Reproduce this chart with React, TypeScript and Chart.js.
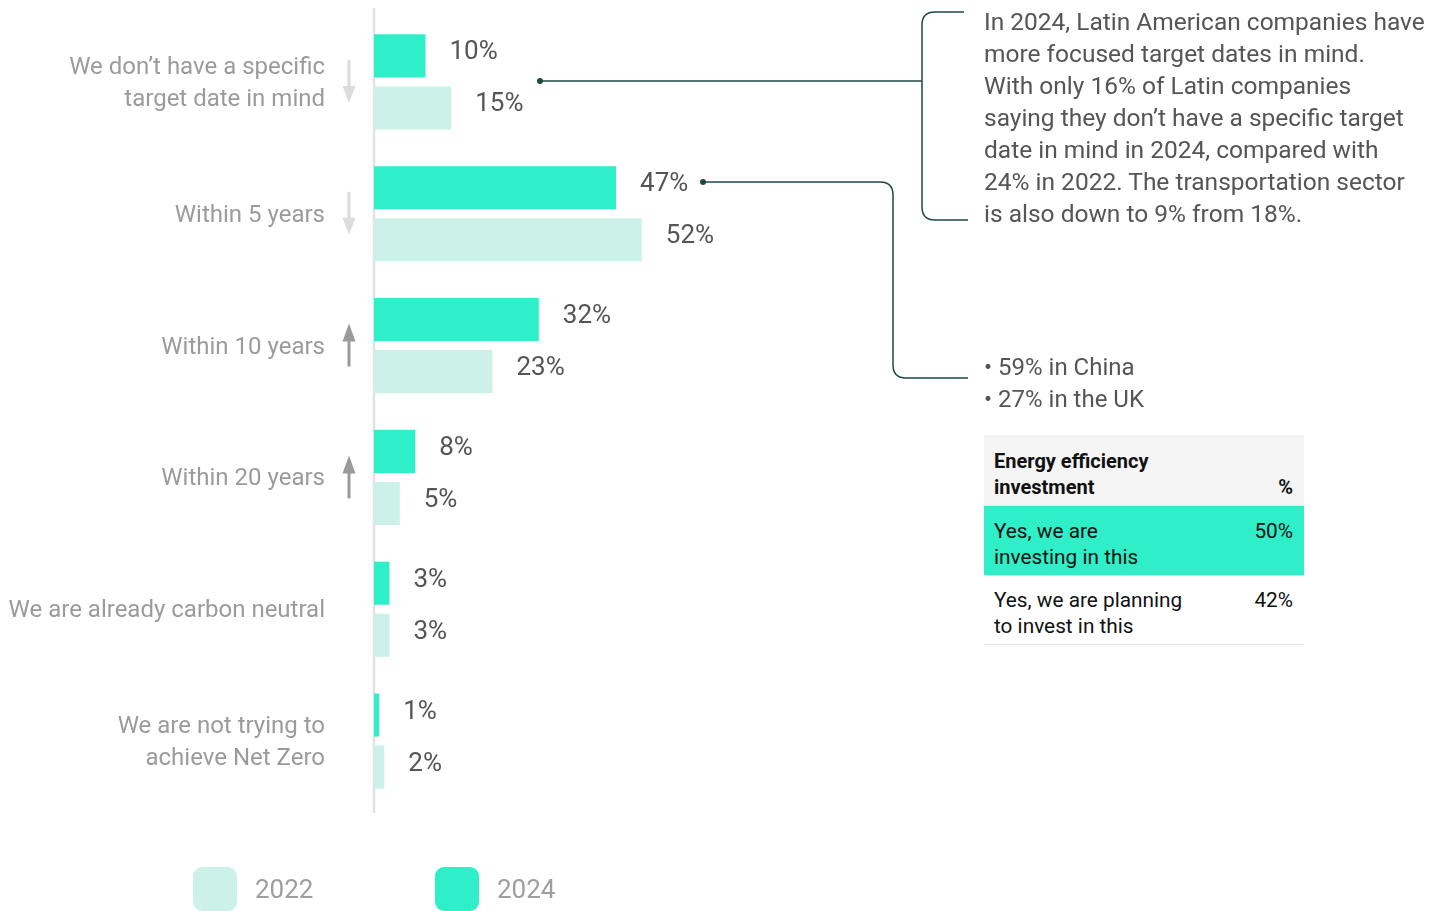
import React, { useEffect, useRef } from "react";
import { Chart, registerables } from "chart.js";

Chart.register(...registerables);

const categories: string[][] = [
  ["We don’t have a specific", "target date in mind"],
  ["Within 5 years"],
  ["Within 10 years"],
  ["Within 20 years"],
  ["We are already carbon neutral"],
  ["We are not trying to", "achieve Net Zero"],
];
const values2024 = [10, 47, 32, 8, 3, 1];
const values2022 = [15, 52, 23, 5, 3, 2];
const trends = ["down", "down", "up", "up", "none", "none"];
const seriesNames = ["2024", "2022"];

const noteLines = [
  "In 2024, Latin American companies have",
  "more focused target dates in mind.",
  "With only 16% of Latin companies",
  "saying they don’t have a specific target",
  "date in mind in 2024, compared with",
  "24% in 2022. The transportation sector",
  "is also down to 9% from 18%.",
];
const bulletLines = ["• 59% in China", "• 27% in the UK"];
const tableHeader = ["Energy efficiency", "investment"];
const tableRows = [
  { label: ["Yes, we are", "investing in this"], value: "50%" },
  { label: ["Yes, we are planning", "to invest in this"], value: "42%" },
];

const C2024 = "#2EEFC7";
const C2022 = "#CCF1E8";
const FONT = "Roboto, 'Noto Sans', sans-serif";
const LINE = "#1E4A42";

const drawPlugin = {
  id: "customDraw",
  beforeDatasetsDraw(chart: any) {
    const { ctx, chartArea } = chart;
    ctx.save();
    ctx.strokeStyle = "#E2E2E2";
    ctx.lineWidth = 2.5;
    ctx.beginPath();
    ctx.moveTo(chartArea.left, 8);
    ctx.lineTo(chartArea.left, 813);
    ctx.stroke();
    ctx.restore();
  },
  afterDatasetsDraw(chart: any) {
    const { ctx, chartArea } = chart;
    const yScale = chart.scales.y;
    ctx.save();
    // value labels
    ctx.font = `26px ${FONT}`;
    ctx.fillStyle = "#555555";
    ctx.textAlign = "left";
    ctx.textBaseline = "middle";
    chart.data.datasets.forEach((ds: any, di: number) => {
      const meta = chart.getDatasetMeta(di);
      meta.data.forEach((el: any, i: number) => {
        ctx.fillText(`${ds.data[i]}%`, el.x + 24, el.y - 3);
      });
    });
    // category labels
    ctx.font = `24px ${FONT}`;
    ctx.fillStyle = "#9B9B9B";
    ctx.textAlign = "right";
    categories.forEach((lines, i) => {
      const cy = yScale.getPixelForValue(i);
      const lh = 32;
      const start = cy - ((lines.length - 1) * lh) / 2;
      ctx.fillStyle = "#9B9B9B";
      lines.forEach((ln, k) => ctx.fillText(ln, 325, start + k * lh + 2));
      // arrows
      const t = trends[i];
      if (t === "none") return;
      const ax = chartArea.left - 25;
      const col = t === "up" ? "#9A9A9A" : "#DCDCDC";
      ctx.strokeStyle = col;
      ctx.fillStyle = col;
      ctx.lineWidth = 3;
      ctx.beginPath();
      if (t === "up") {
        ctx.moveTo(ax, cy + 21);
        ctx.lineTo(ax, cy - 8);
        ctx.stroke();
        ctx.beginPath();
        ctx.moveTo(ax, cy - 22);
        ctx.lineTo(ax - 6.5, cy - 4);
        ctx.lineTo(ax + 6.5, cy - 4);
      } else {
        ctx.moveTo(ax, cy - 22);
        ctx.lineTo(ax, cy + 8);
        ctx.stroke();
        ctx.beginPath();
        ctx.moveTo(ax, cy + 21);
        ctx.lineTo(ax - 6.5, cy + 4);
        ctx.lineTo(ax + 6.5, cy + 4);
      }
      ctx.closePath();
      ctx.fill();
    });
    ctx.restore();
  },
};

export default function App() {
  const canvasRef = useRef<HTMLCanvasElement | null>(null);

  useEffect(() => {
    if (!canvasRef.current) return;
    const chart = new Chart(canvasRef.current, {
      type: "bar",
      data: {
        labels: categories.map((c) => c.join(" ")),
        datasets: [
          {
            label: seriesNames[0],
            data: values2024,
            backgroundColor: C2024,
            categoryPercentage: 0.79,
            barPercentage: 0.827,
          },
          {
            label: seriesNames[1],
            data: values2022,
            backgroundColor: C2022,
            categoryPercentage: 0.79,
            barPercentage: 0.827,
          },
        ],
      },
      options: {
        indexAxis: "y",
        animation: false,
        responsive: true,
        maintainAspectRatio: false,
        layout: { padding: { left: 374, top: 16, bottom: 104, right: 11 } },
        plugins: { legend: { display: false }, tooltip: { enabled: false } },
        scales: {
          x: { display: false, min: 0, max: 100 },
          y: { display: false },
        },
      },
      plugins: [drawPlugin],
    });
    return () => chart.destroy();
  }, []);

  const textStyle: React.CSSProperties = {
    position: "absolute",
    fontFamily: FONT,
    fontSize: 24.5,
    color: "#555555",
    lineHeight: "32px",
    whiteSpace: "nowrap",
  };

  return (
    <div
      style={{
        position: "absolute",
        left: 0,
        top: 0,
        width: 1442,
        height: 911,
        overflow: "hidden",
        background: "#fff",
        fontFamily: FONT,
      }}
    >
      <div style={{ position: "absolute", left: 0, top: 0, width: 900, height: 911 }}>
        <canvas ref={canvasRef} />
      </div>

      <svg
        width={1442}
        height={911}
        style={{ position: "absolute", left: 0, top: 0, pointerEvents: "none" }}
      >
        <circle cx={540} cy={81} r={3} fill={LINE} />
        <path d="M540,81 H922" stroke={LINE} strokeWidth={1.5} fill="none" />
        <path
          d="M964,12 H935 Q922,12 922,25 V207 Q922,220 935,220 H968"
          stroke={LINE}
          strokeWidth={1.5}
          fill="none"
        />
        <circle cx={703} cy={182} r={3} fill={LINE} />
        <path
          d="M703,182 H880 Q893,182 893,195 V365 Q893,378 906,378 H968"
          stroke={LINE}
          strokeWidth={1.5}
          fill="none"
        />
      </svg>

      <div style={{ ...textStyle, left: 984, top: 6 }}>
        {noteLines.map((l, i) => (
          <div key={i}>{l}</div>
        ))}
      </div>

      <div style={{ ...textStyle, fontSize: 24, left: 984, top: 351 }}>
        {bulletLines.map((l, i) => (
          <div key={i}>{l}</div>
        ))}
      </div>

      <div
        style={{
          position: "absolute",
          left: 984,
          top: 435,
          width: 320,
          fontFamily: FONT,
          fontSize: 20.8,
          lineHeight: "26px",
          color: "#111",
          whiteSpace: "nowrap",
        }}
      >
        <div
          style={{
            background: "#F5F5F5",
            height: 71,
            boxSizing: "border-box",
            padding: "13px 11px 0 10px",
            position: "relative",
            fontWeight: 700,
            fontSize: 20,
            borderBottom: "1.5px solid #E6E6E6",
          }}
        >
          {tableHeader.map((l, i) => (
            <div key={i}>{l}</div>
          ))}
          <div style={{ position: "absolute", right: 11, top: 39 }}>%</div>
        </div>
        {tableRows.map((r, i) => (
          <div
            key={i}
            style={{
              background: i === 0 ? C2024 : "#fff",
              height: i === 0 ? 70 : 69,
              boxSizing: "border-box",
              padding: i === 0 ? "12px 11px 0 10px" : "11px 11px 0 10px",
              position: "relative",
              borderBottom: "1.5px solid #E6E6E6",
            }}
          >
            {r.label.map((l, k) => (
              <div key={k}>{l}</div>
            ))}
            <div style={{ position: "absolute", right: 11, top: i === 0 ? 12 : 11 }}>
              {r.value}
            </div>
          </div>
        ))}
      </div>

      {[
        { name: seriesNames[1], color: C2022, x: 193 },
        { name: seriesNames[0], color: C2024, x: 435 },
      ].map((lg) => (
        <div key={lg.name}>
          <div
            style={{
              position: "absolute",
              left: lg.x,
              top: 867,
              width: 44,
              height: 44,
              borderRadius: 9,
              background: lg.color,
            }}
          />
          <div
            style={{
              position: "absolute",
              left: lg.x + 62,
              top: 873,
              fontSize: 26,
              lineHeight: "32px",
              color: "#9E9E9E",
              fontFamily: FONT,
            }}
          >
            {lg.name}
          </div>
        </div>
      ))}
    </div>
  );
}
